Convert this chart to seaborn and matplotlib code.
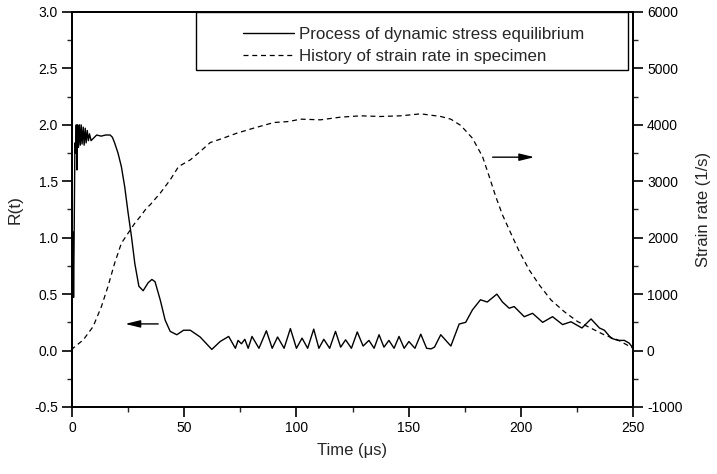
import numpy as np
import pandas as pd
import matplotlib
matplotlib.use("Agg")
import matplotlib.pyplot as plt
from matplotlib.ticker import MultipleLocator
from matplotlib.lines import Line2D
from matplotlib.patches import Rectangle
import seaborn as sns

# ---------------- data ----------------
t_R = [0.3, 0.5, 0.7, 1.0, 1.3, 1.6, 1.9, 2.2, 2.5, 2.9, 3.3, 3.7, 4.1, 4.5, 5.0, 5.4, 5.9, 6.3,
       6.8, 7.3, 7.8, 8.5, 9.5, 11, 13, 15, 17, 18, 19, 20.5, 22, 23.5, 25, 26.5, 28, 29.8, 31.7,
       33.9, 35.6, 37, 39.3, 41.5, 43.75, 46.7, 49.7, 52.7, 57.1, 62.3, 66, 69.8, 72.8, 74, 75.5,
       77, 78.5, 80.2, 83.3, 86.6, 89.2, 91.6, 94.5, 97.3, 100, 102.5, 105, 107.7, 110, 112.2,
       114.8, 117.4, 119.7, 121.9, 124.5, 127.1, 129.7, 132.3, 134.6, 136.8, 139, 141.2, 143.5,
       145.7, 148, 150.1, 152.8, 155.4, 158, 160, 161.5, 164.3, 168.8, 172.5, 175.4, 178.4, 182,
       185, 189.3, 191.8, 194.8, 197, 201.5, 205.2, 209.7, 214.1, 218.6, 222.3, 227.2, 231.25,
       235, 237.2, 240.2, 243.2, 246.1, 248.3, 250]
R_values = [0.58, 1.05, 0.47, 1.1, 1.84, 1.75, 2.0, 1.6, 2.0, 1.8, 2.0, 1.82, 2.0, 1.83, 1.98, 1.82,
            1.97, 1.84, 1.95, 1.86, 1.92, 1.86, 1.88, 1.91, 1.90, 1.91, 1.91, 1.89, 1.84, 1.75, 1.63,
            1.45, 1.22, 1.01, 0.77, 0.57, 0.53, 0.60, 0.63, 0.61, 0.45, 0.27, 0.17, 0.14, 0.18, 0.18,
            0.12, 0.01, 0.08, 0.125, 0.02, 0.09, 0.06, 0.10, 0.02, 0.125, 0.02, 0.175, 0.02, 0.12,
            0.02, 0.195, 0.02, 0.11, 0.02, 0.19, 0.02, 0.10, 0.02, 0.17, 0.03, 0.095, 0.02, 0.165,
            0.04, 0.09, 0.02, 0.14, 0.03, 0.09, 0.02, 0.125, 0.02, 0.08, 0.02, 0.145, 0.02, 0.015,
            0.03, 0.14, 0.04, 0.235, 0.25, 0.36, 0.45, 0.43, 0.50, 0.43, 0.375, 0.39, 0.30, 0.33,
            0.25, 0.30, 0.23, 0.255, 0.20, 0.28, 0.20, 0.18, 0.11, 0.09, 0.09, 0.065, 0.02]

t_rate = [0, 0.4, 5, 9.4, 13.1, 16, 19, 22, 25, 28, 30.4, 33.2, 34.8, 39.3, 43.75, 47.5, 52.7, 57.1,
          61.6, 66.1, 73.5, 80.9, 89.9, 96.6, 101.8, 110.7, 119.6, 128.6, 137.5, 146.4, 155.4,
          164.3, 168.75, 173.2, 178.4, 182.9, 185.9, 188.8, 191.8, 195.5, 199.3, 203.7, 208.2,
          213.4, 219.3, 225.3, 231.3, 237.2, 243.2, 250]
strain_rate = [0, 40, 188, 424, 778, 1133, 1548, 1902, 2080, 2257, 2374, 2523, 2582, 2789, 3025,
               3261, 3379, 3527, 3686, 3746, 3853, 3941, 4041, 4059, 4101, 4089, 4136, 4160, 4148,
               4160, 4195, 4148, 4101, 3990, 3764, 3438, 3083, 2729, 2404, 2080, 1754, 1429, 1163,
               897, 690, 513, 395, 277, 188, 40]

label_R = "Process of dynamic stress equilibrium"
label_rate = "History of strain rate in specimen"

df_R = pd.DataFrame({"t": t_R, "R": R_values})
df_rate = pd.DataFrame({"t": t_rate, "rate": strain_rate})

# ---------------- style ----------------
sns.set_style("ticks")
plt.rcParams["font.family"] = ["Liberation Sans", "DejaVu Sans"]
plt.rcParams["axes.linewidth"] = 1.3
plt.rcParams["axes.unicode_minus"] = False

fig = plt.figure(figsize=(7.17, 4.74), dpi=100)
ax = fig.add_axes([0.1004, 0.1414, 0.7826, 0.8333])
ax2 = ax.twinx()

sns.lineplot(data=df_R, x="t", y="R", ax=ax, color="black", lw=1.0,
             estimator=None, sort=False)
sns.lineplot(data=df_rate, x="t", y="rate", ax=ax2, color="black", lw=0.9,
             estimator=None, sort=False, linestyle=(0, (4, 3)))

ax.set_xlim(0, 250)
ax.set_ylim(-0.5, 3.0)
ax2.set_ylim(-1000, 6000)

ax.xaxis.set_major_locator(MultipleLocator(50))
ax.xaxis.set_minor_locator(MultipleLocator(25))
ax.yaxis.set_major_locator(MultipleLocator(0.5))
ax.yaxis.set_minor_locator(MultipleLocator(0.25))
ax2.yaxis.set_major_locator(MultipleLocator(1000))
ax2.yaxis.set_minor_locator(MultipleLocator(500))
ax.yaxis.set_major_formatter(matplotlib.ticker.FormatStrFormatter("%.1f"))

for a in (ax, ax2):
    for s in a.spines.values():
        s.set_visible(True)
        s.set_linewidth(1.3)
        s.set_color("black")
    a.tick_params(which="major", direction="out", length=7, width=1.2, labelsize=10, pad=3,
                  colors="black")
    a.tick_params(which="minor", direction="out", length=3.5, width=1.0)
ax.tick_params(axis="x", which="both", top=False)
ax.tick_params(axis="y", which="both", right=False)
ax2.tick_params(axis="y", which="both", left=False, right=True)

ax.set_xlabel("Time (\u03bcs)", fontsize=12, labelpad=6)
ax.set_ylabel("R(t)", fontsize=12.5, labelpad=8)
ax2.set_ylabel("Strain rate (1/s)", fontsize=12, labelpad=10)

# arrows
ax.annotate("", xy=(23.7, 0.236), xytext=(38.4, 0.236),
            arrowprops=dict(arrowstyle="-|>,head_length=0.9,head_width=0.22",
                            color="black", lw=1.0, shrinkA=0, shrinkB=0))
ax2.annotate("", xy=(206, 3427), xytext=(187.4, 3427),
             arrowprops=dict(arrowstyle="-|>,head_length=0.9,head_width=0.22",
                             color="black", lw=1.0, shrinkA=0, shrinkB=0))

# legend box
ax.add_patch(Rectangle((0.221, 0.854), 0.77, 0.146, transform=ax.transAxes,
                       fill=False, edgecolor="black", lw=1.0, zorder=5, clip_on=False))
handles = [Line2D([], [], color="black", lw=1.0),
           Line2D([], [], color="black", lw=0.9, linestyle=(0, (4, 3)))]
leg = ax.legend(handles, [label_R, label_rate], loc="upper left",
                bbox_to_anchor=(0.285, 0.99), frameon=False, fontsize=12.2,
                handlelength=3.0, handletextpad=0.3, labelspacing=0.4,
                borderaxespad=0.35, borderpad=0.3)

fig.savefig("out.png", dpi=100)
